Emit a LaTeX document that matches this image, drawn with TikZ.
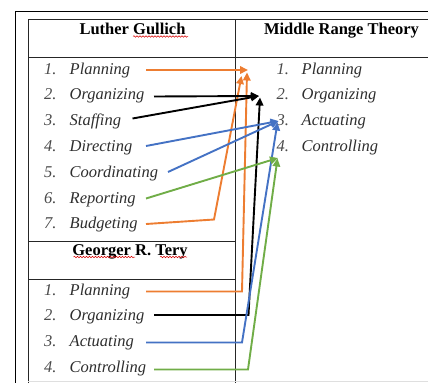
\documentclass[tikz,border=0pt]{standalone}
\usepackage{fontspec}
\setmainfont{Liberation Serif}
\usetikzlibrary{arrows.meta,decorations.pathmorphing}
\definecolor{worange}{HTML}{ED7D31}
\definecolor{wblue}{HTML}{4472C4}
\definecolor{wgreen}{HTML}{70AD47}
\definecolor{itemgray}{HTML}{2E2E2E}
\definecolor{numgray}{HTML}{4A4A4A}
\begin{document}
\begin{tikzpicture}[x=1pt,y=-1pt,
  font=\fontsize{16.5}{19}\selectfont,
  rule/.style={line width=0.8pt,black!85},
  frame/.style={line width=1.8pt,black},
  head/.style={anchor=base,font=\fontsize{16.5}{19}\selectfont\bfseries},
  num/.style={anchor=base west,inner sep=0pt,text=numgray,font=\fontsize{16.5}{19}\selectfont\itshape},
  item/.style={anchor=base west,inner sep=0pt,text=itemgray,font=\fontsize{16.5}{19}\selectfont\itshape},
  link/.style={line width=1.9pt,line join=miter},
  tip/.style={-{Triangle[length=8pt,width=7.5pt]}},
  spell/.style={red!85!black,line width=0.5pt,decorate,decoration={snake,segment length=3pt,amplitude=0.8pt}}]
\useasboundingbox (0,0) rectangle (428,383);

% outer page frame
\draw[frame] (428,11.5) -- (15.5,11.5) -- (15.5,383);
% table rules
\draw[rule] (28,19.5) -- (428,19.5);
\draw[rule] (28,57) -- (428,57);
\draw[rule] (28,19.5) -- (28,383);
\draw[rule] (235,19.5) -- (235,383);
\draw[rule] (28,241) -- (235,241);
\draw[rule] (28,279) -- (235,279);
\draw[gray!25,line width=0.6pt] (28,381.5) -- (428,381.5);

% headers
\node[head] (hg) at (132.5,34.5) {Luther Gullich};
\node[head] (hm) at (341.5,34.5) {Middle Range Theory};
\node[head] (ht) at (130,255) {Georger R. Tery};
\draw[spell] (133,36.5) -- (188,36.5);
\draw[spell] (73.5,257) -- (135,257);
\draw[spell] (160,257) -- (187,257);

% Luther Gullich list
\foreach \i/\t [count=\k] in {1/Planning,2/Organizing,3/Staffing,4/Directing,5/Coordinating,6/Reporting,7/Budgeting}{
  \node[num] (gn\k) at (44,{74+25.8*(\k-1)}) {\i.};
  \node[item] (g\k) at (69.5,{74+25.8*(\k-1)}) {\t};
}
% Middle Range Theory list
\foreach \i/\t [count=\k] in {1/Planning,2/Organizing,3/Actuating,4/Controlling}{
  \node[num] (mn\k) at (276.5,{74+25.8*(\k-1)}) {\i.};
  \node[item] (m\k) at (301.5,{74+25.8*(\k-1)}) {\t};
}
% Georger R. Tery list
\foreach \i/\t [count=\k] in {1/Planning,2/Organizing,3/Actuating,4/Controlling}{
  \node[num] (tn\k) at (44,{295+25.7*(\k-1)}) {\i.};
  \node[item] (t\k) at (69.5,{295+25.7*(\k-1)}) {\t};
}

% connector end points
\coordinate (sg1) at (146,70);
\coordinate (sg2) at (154,96.5);
\coordinate (sg3) at (132.5,118.5);
\coordinate (sg4) at (146,146);
\coordinate (sg5) at (168,172);
\coordinate (sg6) at (146,198.5);
\coordinate (sg7) at (146,224);
\coordinate (bg7) at (214,219.5);
\coordinate (st1) at (146,291.5);
\coordinate (bt1) at (242,291.5);
\coordinate (st2) at (154,315);
\coordinate (bt2) at (248.5,315);
\coordinate (st3) at (146,342.5);
\coordinate (bt3) at (242,342.5);
\coordinate (st4) at (154,369.5);
\coordinate (bt4) at (248,369.5);

\coordinate (ePlanA) at (248,70);
\coordinate (ePlanB) at (241.5,76);
\coordinate (ePlanC) at (247,72.5);
\coordinate (eOrgA) at (259,96);
\coordinate (eOrgB) at (260,97.5);
\coordinate (eAct) at (278.5,121);
\coordinate (eActB) at (277.5,122.5);
\coordinate (eCtl) at (278,158);
\coordinate (eCtlB) at (277.5,158.5);

% planning
\draw[link,worange,tip] (sg1) -- (ePlanA);
\draw[link,worange,tip] (sg7) -- (bg7) -- (ePlanB);
\draw[link,worange,tip] (st1) -- (bt1) -- (ePlanC);
% organizing
\draw[link,black,tip] (sg2) -- (eOrgA);
\draw[link,black,tip] (sg3) -- (eOrgA);
\draw[link,black,tip] (st2) -- (bt2) -- (eOrgB);
% actuating
\draw[link,wblue,tip] (sg4) -- (eAct);
\draw[link,wblue,tip] (sg5) -- (eAct);
\draw[link,wblue,tip] (st3) -- (bt3) -- (eActB);
% controlling
\draw[link,wgreen,tip] (sg6) -- (eCtl);
\draw[link,wgreen,tip] (st4) -- (bt4) -- (eCtlB);
\end{tikzpicture}
\end{document}
